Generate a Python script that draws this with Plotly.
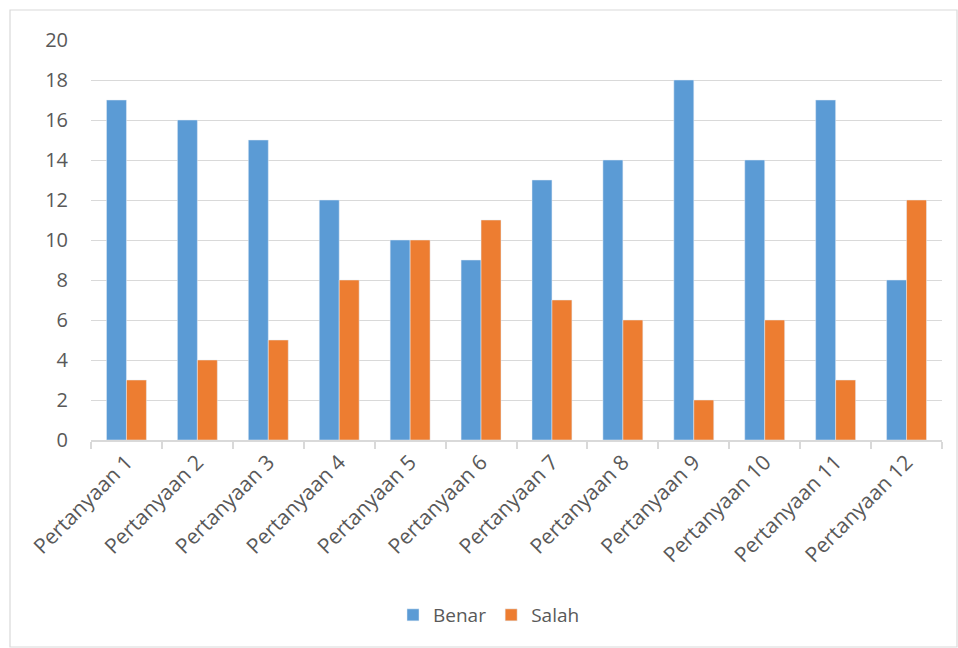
import plotly.graph_objects as go

categories = [f"Pertanyaan {i}" for i in range(1, 13)]
benar = [17, 16, 15, 12, 10, 9, 13, 14, 18, 14, 17, 8]
salah = [3, 4, 5, 8, 10, 11, 7, 6, 2, 6, 3, 12]

W, H = 958, 648
L, R, T, B = 91, 942, 40, 440
pw, ph = R - L, B - T

fig = go.Figure()
fig.add_bar(x=categories, y=benar, name="Benar", marker_color="#5B9BD5")
fig.add_bar(x=categories, y=salah, name="Salah", marker_color="#ED7D31")

font = dict(family="Open Sans, sans-serif", color="#595959")

fig.update_layout(
    width=W, height=H,
    margin=dict(l=L, r=W - R, t=T, b=H - B),
    paper_bgcolor="white", plot_bgcolor="white",
    barmode="group", bargap=0.437, bargroupgap=0,
    font=dict(**font, size=18),
    legend=dict(orientation="h", x=(489 - L) / pw, xanchor="center",
                y=-(615 - B) / ph, yanchor="middle",
                font=dict(**font, size=19), itemwidth=30),
    showlegend=True,
)
fig.update_yaxes(range=[0, 20], dtick=2, showgrid=True, gridcolor="#d9d9d9",
                 gridwidth=1.3, zeroline=False, showline=False,
                 tickfont=dict(**font, size=20), ticks="", ticklabelstandoff=22)
fig.update_xaxes(showline=True, linecolor="#d9d9d9", linewidth=1.5,
                 ticks="outside", tickson="boundaries", ticklen=7,
                 tickcolor="#d9d9d9", tickwidth=1.5, tickangle=-45,
                 tickfont=dict(**font, size=21))

fig.add_shape(type="rect", xref="paper", yref="paper",
              x0=(10 - L) / pw, x1=(957 - L) / pw,
              y0=-(647 - B) / ph, y1=1 + (T - 10) / ph,
              line=dict(color="#d9d9d9", width=1.2), layer="below")

fig.write_html("out.html")
